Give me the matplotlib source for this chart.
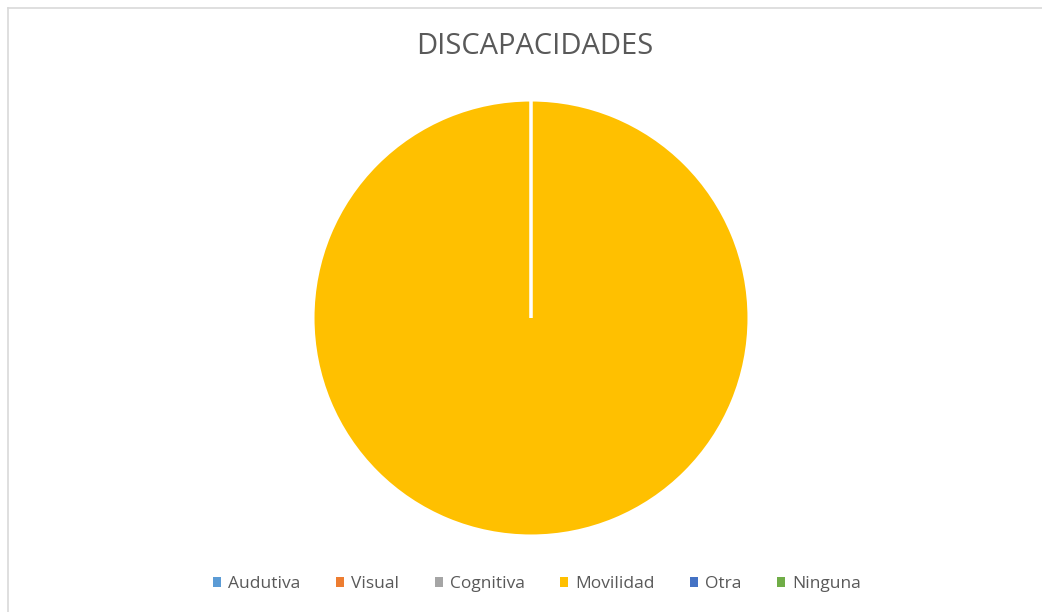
import matplotlib.pyplot as plt
from matplotlib.lines import Line2D
from matplotlib.patches import Patch

# Daten
categorias = ["Audutiva", "Visual", "Cognitiva", "Movilidad", "Otra", "Ninguna"]
valores = [0, 0, 0, 1, 0, 0]
colores = ["#5B9BD5", "#ED7D31", "#A5A5A5", "#FFC000", "#4472C4", "#70AD47"]
titulo = "DISCAPACIDADES"

W, H = 1042, 612
fig = plt.figure(figsize=(W / 100, H / 100), dpi=100)
plt.rcParams['font.family'] = ['Open Sans', 'DejaVu Sans']

# Rahmen (nur oben und links sichtbar)
fig.add_artist(Line2D([7.5 / W, 7.5 / W], [0, 1 - 7.5 / H], color="#D9D9D9", linewidth=1.2))
fig.add_artist(Line2D([7.5 / W, 1], [1 - 7.5 / H, 1 - 7.5 / H], color="#D9D9D9", linewidth=1.2))

# Kuchen: Zentrum (531, 318), Radius 218 px
cx, cy, r = 531, 318, 218
ax = fig.add_axes([(cx - r) / W, (H - cy - r) / H, 2 * r / W, 2 * r / H])
ax.pie(valores, colors=colores, startangle=90, counterclock=False,
       wedgeprops=dict(edgecolor="white", linewidth=2.2))
ax.set_xlim(-1, 1)
ax.set_ylim(-1, 1)
ax.axis("off")

fig.text(535 / W, 1 - 47 / H, titulo, ha="center", va="center",
         fontsize=21, color="#595959")

handles = [Patch(facecolor=c, edgecolor="none") for c in colores]
fig.legend(handles, categorias, loc="center", bbox_to_anchor=(537 / W, 1 - 584 / H),
           ncol=6, frameon=False, fontsize=12.5, labelcolor="#595959",
           handlelength=0.46, handleheight=0.46, handletextpad=0.4, columnspacing=2.05,
           borderpad=0, borderaxespad=0)

fig.savefig("out.png", dpi=100, facecolor="white")
